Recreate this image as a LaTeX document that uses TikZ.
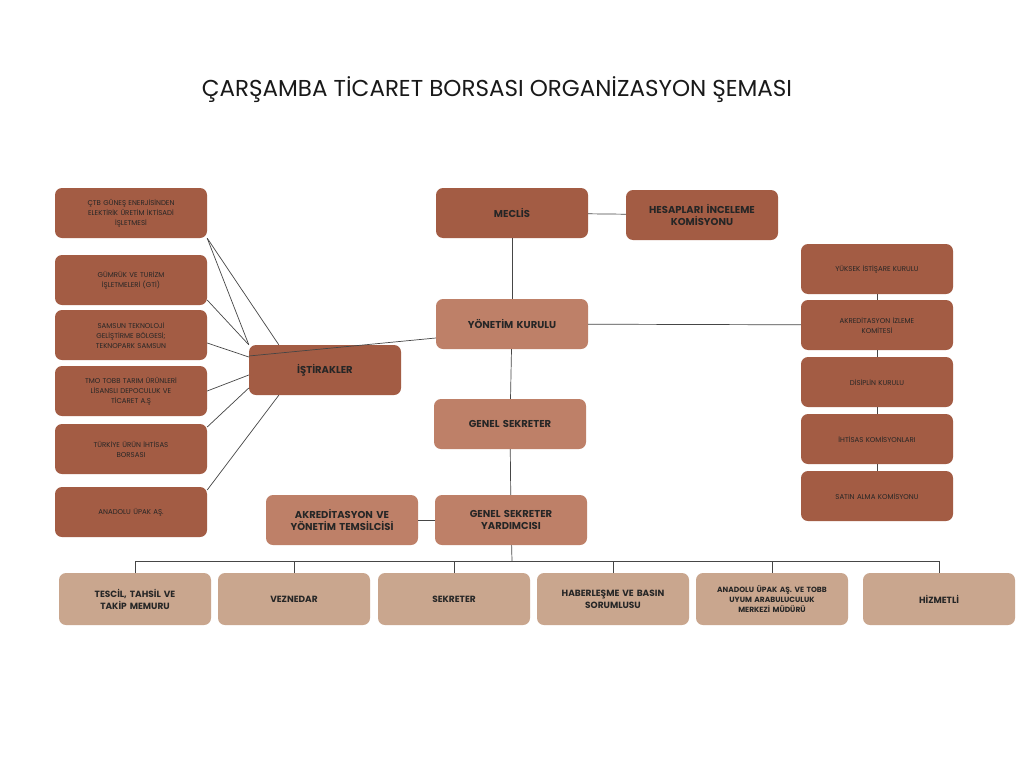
\documentclass[tikz,border=0pt]{standalone}
\usepackage{fontspec}
\setmainfont{Poppins}
\usetikzlibrary{positioning}
\definecolor{darkbox}{RGB}{163,92,68}
\definecolor{midbox}{RGB}{190,128,104}
\definecolor{lightbox}{RGB}{201,166,142}
\definecolor{linecol}{RGB}{70,70,70}

\tikzset{
    unit/.style={rounded corners=7, minimum width=152, minimum height=50, inner sep=2,
        align=center, text width=140, font=\fontsize{10}{12}\selectfont\bfseries, text=black!85},
    subunit/.style={unit, fill=darkbox, font=\fontsize{7}{10}\selectfont},
    topunit/.style={unit, fill=darkbox},
    midunit/.style={unit, fill=midbox},
    staffunit/.style={unit, fill=lightbox, minimum height=52, font=\fontsize{9}{12}\selectfont\bfseries},
    link/.style={linecol, line width=0.7}
}

\begin{document}
\begin{tikzpicture}[x=1pt, y=-1pt]
        \useasboundingbox (0, 0) rectangle (1024, 768);
        \fill [white] (0, 0) rectangle (1024, 768);

        \node [font=\fontsize{23}{26}\selectfont, text=black!90] (title) at (497, 90) {ÇARŞAMBA TİCARET BORSASI ORGANİZASYON ŞEMASI};

        % main chain
        \node [topunit] (meclis) at (512, 213) {MECLİS};
        \node [topunit] (hesap) at (702, 215) {HESAPLARI İNCELEME\\KOMİSYONU};
        \node [midunit] (yonetim) at (512, 324) {YÖNETİM KURULU};
        \node [midunit] (gensek) at (510, 424) {GENEL SEKRETER};
        \node [midunit] (gsy) at (511, 520) {GENEL SEKRETER\\YARDIMCISI};
        \node [midunit] (avt) at (342, 520) {AKREDİTASYON VE\\YÖNETİM TEMSİLCİSİ};
        \node [topunit] (istirak) at (325, 370) {İŞTİRAKLER};

        % istirakler
        \node [subunit] (ctb) at (131, 213) {ÇTB GÜNEŞ ENERJİSİNDEN\\ELEKTİRİK ÜRETİM İKTİSADİ\\İŞLETMESİ};
        \node [subunit] (gti) at (131, 280) {GÜMRÜK VE TURİZM\\İŞLETMELERİ (GTİ)};
        \node [subunit] (tgb) at (131, 335) {SAMSUN TEKNOLOJİ\\GELİŞTİRME BÖLGESİ;\\TEKNOPARK SAMSUN};
        \node [subunit] (tmo) at (131, 391) {TMO TOBB TARIM ÜRÜNLERİ\\LİSANSLI DEPOCULUK VE\\TİCARET A.Ş};
        \node [subunit] (tuib) at (131, 449) {TÜRKİYE ÜRÜN İHTİSAS\\BORSASI};
        \node [subunit] (upak) at (131, 512) {ANADOLU ÜPAK AŞ.};

        % kurullar
        \node [subunit] (yik) at (877, 269) {YÜKSEK İSTİŞARE KURULU};
        \node [subunit] (aik) at (877, 325) {AKREDİTASYON İZLEME\\KOMİTESİ};
        \node [subunit] (dk) at (877, 382) {DİSİPLİN KURULU};
        \node [subunit] (ik) at (877, 439) {İHTİSAS KOMİSYONLARI};
        \node [subunit] (sak) at (877, 496) {SATIN ALMA KOMİSYONU};

        % personel
        \node [staffunit] (tescil) at (135, 599) {TESCİL, TAHSİL VE\\TAKİP MEMURU};
        \node [staffunit] (vezne) at (294, 599) {VEZNEDAR};
        \node [staffunit] (sekr) at (454, 599) {SEKRETER};
        \node [staffunit] (basin) at (613, 599) {HABERLEŞME VE BASIN\\SORUMLUSU};
        \node [staffunit, font=\fontsize{7.5}{10}\selectfont\bfseries] (arab) at (772, 599) {ANADOLU ÜPAK AŞ. VE TOBB\\UYUM ARABULUCULUK\\MERKEZİ MÜDÜRÜ};
        \node [staffunit] (hizmet) at (939, 599) {HİZMETLİ};

        \coordinate (bus) at (512, 561);

        \begin{scope}[on background layer/.style={}]
            \draw [link] (meclis) -- (hesap);
            \draw [link] (meclis) -- (yonetim);
            \draw [link] (yonetim) -- (gensek);
            \draw [link] (gensek) -- (gsy);
            \draw [link] (avt) -- (gsy);
            \draw [link] (yonetim) -- (aik);
            \draw [link] (istirak.west |- 0, 356) -- (yonetim.west |- 0, 338);
            \draw [link] (ctb.south east) -- (istirak.north west) ++(30, 0);
            \draw [link] (ctb.south east) -- ([xshift=30]istirak.north west);
            \draw [link] (gti.east |- 0, 300) -- (istirak.north west);
            \draw [link] (tgb.east |- 0, 343) -- (istirak.west |- 0, 357);
            \draw [link] (tmo.east |- 0, 391) -- (istirak.west |- 0, 375);
            \draw [link] (tuib.east |- 0, 427) -- (istirak.west |- 0, 388);
            \draw [link] (upak.east |- 0, 490) -- ([xshift=30]istirak.south west);
            \draw [link] (yik) -- (aik);
            \draw [link] (aik) -- (dk);
            \draw [link] (dk) -- (ik);
            \draw [link] (ik) -- (sak);
            \draw [link] (gsy) -- (bus);
            \draw [link] (tescil.north |- bus) -- (hizmet.north |- bus);
            \foreach \s in {tescil, vezne, sekr, basin, arab, hizmet}
                \draw [link] (\s.north |- bus) -- (\s.north);
        \end{scope}
    \end{tikzpicture}
\end{document}
